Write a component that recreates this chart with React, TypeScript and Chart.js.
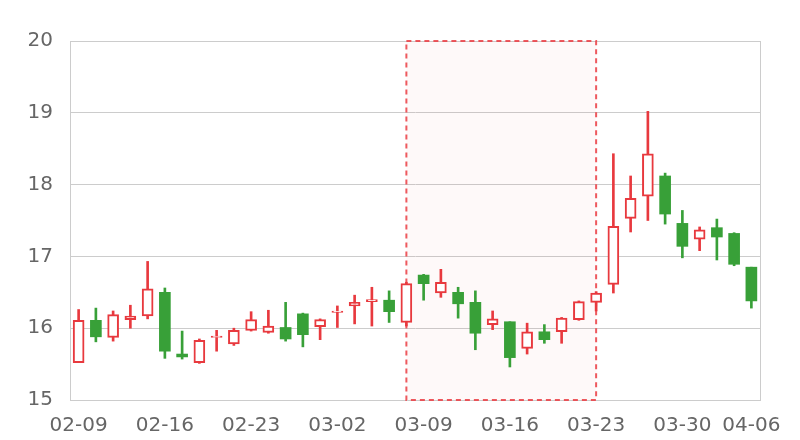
import { useEffect, useRef } from 'react';
import { Chart, registerables } from 'chart.js';

Chart.register(...registerables);

const dates = [
  '02-09', '02-10', '02-11', '02-12', '02-13',
  '02-16', '02-17', '02-18', '02-19', '02-20',
  '02-23', '02-24', '02-25', '02-26', '02-27',
  '03-02', '03-03', '03-04', '03-05', '03-06',
  '03-09', '03-10', '03-11', '03-12', '03-13',
  '03-16', '03-17', '03-18', '03-19', '03-20',
  '03-23', '03-24', '03-25', '03-26', '03-27',
  '03-30', '03-31', '04-01', '04-02', '04-06',
];

const openPrices = [
  15.52, 16.11, 15.87, 16.12, 16.17,
  16.5, 15.64, 15.52, 15.87, 15.78,
  15.97, 15.94, 16.01, 16.2, 16.02,
  16.22, 16.31, 16.37, 16.39, 16.08,
  16.74, 16.49, 16.5, 16.36, 16.05,
  16.09, 15.72, 15.95, 15.95, 16.12,
  16.36, 16.61, 17.53, 17.84, 18.12,
  17.46, 17.24, 17.4, 17.32, 16.85,
];

const closePrices = [
  16.11, 15.88, 16.19, 16.17, 16.55,
  15.68, 15.6, 15.83, 15.89, 15.97,
  16.12, 16.03, 15.85, 15.91, 16.12,
  16.24, 16.36, 16.4, 16.23, 16.62,
  16.62, 16.64, 16.34, 15.93, 16.13,
  15.59, 15.95, 15.84, 16.14, 16.37,
  16.49, 17.42, 17.81, 18.43, 17.59,
  17.14, 17.37, 17.27, 16.89, 16.38,
];

const highPrices = [
  16.26, 16.28, 16.24, 16.32, 16.93,
  16.56, 15.96, 15.85, 15.97, 16.0,
  16.23, 16.25, 16.36, 16.21, 16.13,
  16.31, 16.46, 16.57, 16.52, 16.64,
  16.75, 16.82, 16.57, 16.52, 16.24,
  16.09, 16.07, 16.05, 16.15, 16.38,
  16.51, 18.43, 18.12, 19.02, 18.16,
  17.64, 17.41, 17.52, 17.33, 16.85,
];

const lowPrices = [
  15.52, 15.81, 15.82, 16.0, 16.13,
  15.58, 15.57, 15.51, 15.68, 15.76,
  15.96, 15.93, 15.82, 15.74, 15.84,
  16.01, 16.06, 16.03, 16.08, 16.03,
  16.39, 16.43, 16.14, 15.7, 15.98,
  15.46, 15.64, 15.79, 15.79, 16.11,
  16.24, 16.49, 17.34, 17.5, 17.45,
  16.98, 17.08, 16.95, 16.87, 16.28,
];

const tickLabels = ['02-09', '02-16', '02-23', '03-02', '03-09', '03-16', '03-23', '03-30', '04-06'];
const highlightStart = '03-06';
const highlightEnd = '03-23';

const UP = '#e8393e';
const DOWN = '#38a038';
const FONT = 'DejaVu Sans';

export default function App() {
  const ref = useRef<HTMLCanvasElement>(null);

  useEffect(() => {
    if (!ref.current) return;
    const isUp = dates.map((_, i) => closePrices[i] >= openPrices[i]);
    const bodies = dates.map((_, i) => [openPrices[i], closePrices[i]]);
    const wicks = dates.map((_, i) => [lowPrices[i], highPrices[i]]);
    const colors = isUp.map((u) => (u ? UP : DOWN));

    const highlight = {
      id: 'highlight',
      beforeDatasetsDraw(chart: any) {
        const { ctx, chartArea, scales } = chart;
        const x0 = scales.x.getPixelForValue(dates.indexOf(highlightStart));
        const x1 = scales.x.getPixelForValue(dates.indexOf(highlightEnd));
        const top = chartArea.top;
        const bottom = chartArea.bottom;
        ctx.save();
        ctx.strokeStyle = '#cccccc';
        ctx.lineWidth = 1;
        ctx.beginPath();
        ctx.moveTo(Math.round(chartArea.right) + 0.5, top);
        ctx.lineTo(Math.round(chartArea.right) + 0.5, bottom);
        ctx.stroke();
        ctx.fillStyle = 'rgba(232,57,62,0.03)';
        ctx.fillRect(x0, top, x1 - x0, bottom - top);
        ctx.strokeStyle = 'rgba(235,60,66,0.85)';
        ctx.lineWidth = 2;
        ctx.setLineDash([5, 4]);
        ctx.strokeRect(x0, top, x1 - x0, bottom - top);
        ctx.restore();
      },
    };

    const chart = new Chart(ref.current, {
      type: 'bar',
      data: {
        labels: dates,
        datasets: [
          {
            label: 'body',
            data: bodies as any,
            backgroundColor: isUp.map((u) => (u ? '#ffffff' : DOWN)),
            borderColor: colors,
            borderWidth: isUp.map((u) => (u ? 2 : 0)),
            borderSkipped: false,
            barThickness: 11,
            grouped: false,
            order: 0,
          } as any,
          {
            label: 'wick',
            data: wicks as any,
            backgroundColor: colors,
            borderWidth: 0,
            barThickness: 2,
            grouped: false,
            order: 1,
          } as any,
        ],
      },
      options: {
        responsive: false,
        animation: false,
        layout: { padding: { left: 0, top: 41, right: 40, bottom: 0 } },
        plugins: {
          legend: { display: false },
          tooltip: { enabled: false },
        },
        scales: {
          x: {
            type: 'category',
            offset: true,
            grid: { display: false, drawTicks: false },
            border: { display: true, color: '#cccccc' },
            ticks: {
              autoSkip: false,
              maxRotation: 0,
              color: '#666666',
              font: { size: 20, family: FONT },
              padding: 14,
              callback: (_v: any, idx: number) => (tickLabels.includes(dates[idx]) ? dates[idx] : ''),
            },
            afterFit: (s: any) => {
              s.height = 40;
            },
          },
          y: {
            min: 15,
            max: 20,
            ticks: {
              stepSize: 1,
              color: '#666666',
              font: { size: 20, family: FONT },
              padding: 17,
            },
            grid: { color: '#cccccc', drawTicks: false },
            border: { display: true, color: '#cccccc' },
            afterFit: (s: any) => {
              s.width = 70;
            },
          },
        },
      } as any,
      plugins: [highlight],
    });

    return () => chart.destroy();
  }, []);

  return (
    <div style={{ position: 'absolute', left: 0, top: 0, width: 800, height: 440, background: '#fff' }}>
      <canvas ref={ref} width={800} height={440} style={{ width: 800, height: 440 }} />
    </div>
  );
}
